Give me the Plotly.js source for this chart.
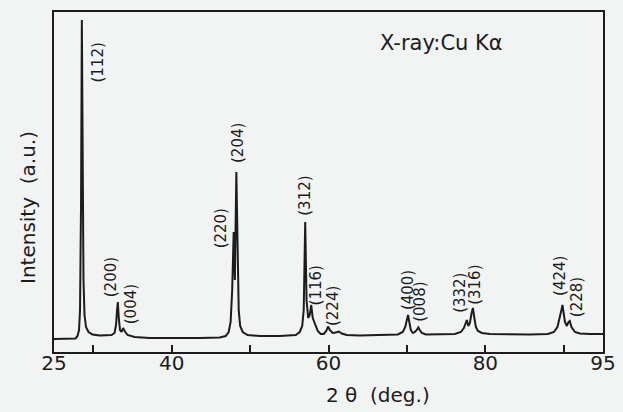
<!DOCTYPE html>
<html>
<head>
<meta charset="utf-8">
<script src="https://cdn.plot.ly/plotly-3.0.1.min.js"></script>
<style>html,body{margin:0;padding:0;background:#f2f3f3;}#chart{width:623px;height:412px;}</style>
</head>
<body>
<div id="chart"></div>
<script>
// 2θ (deg.) values
var twoTheta = [25.00, 26.98, 27.74, 28.00, 28.19, 28.32, 28.45, 28.55, 28.66, 28.76, 28.89, 29.08, 29.40, 29.91, 30.81,
  32.34, 32.72, 32.91, 33.04, 33.14, 33.26, 33.42, 33.61, 33.81, 34.00, 34.38, 35.27, 37.19, 43.57,
  46.12, 46.89, 47.27, 47.52, 47.72, 47.91, 48.06, 48.25, 48.39, 48.55, 48.74, 49.06, 49.69, 51.23, 53.78,
  55.82, 56.33, 56.65, 56.84, 57.03, 57.20, 57.41, 57.61, 57.80, 57.99, 58.24, 58.63, 59.01, 59.39, 59.71, 59.94, 60.16,
  60.54, 60.92, 61.31, 61.69, 62.33, 63.99, 66.54, 68.84,
  69.47, 69.79, 69.99, 70.15, 70.30, 70.50, 70.75, 71.01, 71.26, 71.45, 71.64, 71.90, 72.41, 74.20,
  76.11, 76.88, 77.26, 77.45, 77.64, 77.83, 78.03, 78.22, 78.41, 78.60, 78.79, 79.05, 79.56, 80.58, 83.13, 85.68,
  87.98, 88.74, 89.19, 89.51, 89.70, 89.83, 89.98, 90.15, 90.40, 90.60, 90.76, 90.98, 91.42, 92.06, 93.34, 95.00];
// Intensity (a.u.)
var intensity = [13, 13, 13.5, 16, 22, 42, 152, 332, 202, 72, 37, 25, 20, 17.5, 16.5,
  17, 19, 27, 42, 50, 34, 22, 20, 24, 21, 17, 15, 14, 14,
  14.5, 16, 20, 30, 62, 120, 72, 180, 92, 42, 26, 20, 17, 16, 16,
  17, 20, 26, 42, 130, 52, 34, 37, 47, 34, 29, 21, 18, 18, 21, 25.5, 22,
  19, 19.5, 20.5, 18.5, 17, 16.5, 17, 17.5,
  20, 25, 32, 37, 30, 22, 19, 20, 22, 24.5, 22, 19, 17.5, 17.5,
  18, 20, 24, 28, 32, 26, 29, 38, 44, 34, 25, 21, 19, 18, 17.5, 17.5,
  18, 20, 25, 34, 42, 47, 37, 30, 26, 30, 31, 25, 20, 18.5, 18, 18];

// Peak labels (Miller indices)
var peakLabels = ['(112)', '(200)', '(004)', '(220)', '(204)', '(312)', '(116)', '(224)', '(400)', '(008)', '(332)', '(316)', '(424)', '(228)'];
var labelX = [30.55, 32.30, 34.85, 46.34, 48.46, 56.97, 58.46, 60.58, 70.15, 71.64, 76.75, 78.66, 89.51, 91.64];
var labelY = [289, 75, 48, 124, 209, 156, 67, 46, 62, 50, 59, 67, 76, 54.5];

var tickVals = [25, 30, 40, 50, 60, 70, 80, 90, 95];
var tickText = ['25', '', '40', '', '60', '', '80', '', '95'];

var ink = '#1c1c1c';
var font = 'DejaVu Sans, sans-serif';

var annotations = peakLabels.map(function (t, i) {
  return {x: labelX[i], y: labelY[i], xref: 'x', yref: 'y', text: t, showarrow: false,
    textangle: -90, xanchor: 'center', yanchor: 'middle',
    font: {family: font, size: 15, color: ink}};
});
// pixel-placed texts (centre positions in page pixels)
var px = [
  {px: 441, py: 43, text: 'X-ray:Cu Kα', size: 21, angle: 0},
  {px: 378, py: 395, text: '2 θ  (deg.)', size: 20, angle: 0},
  {px: 28, py: 208, text: 'Intensity  (a.u.)', size: 20, angle: -90}
];
var L = 54, R = 20, T = 12, B = 60, W = 623, H = 412;
px.forEach(function (p) {
  annotations.push({x: (p.px - L) / (W - L - R), y: (H - B - p.py) / (H - T - B),
    xref: 'paper', yref: 'paper', text: p.text, showarrow: false, textangle: p.angle,
    xanchor: 'center', yanchor: 'middle', font: {family: font, size: p.size, color: ink}});
});

Plotly.newPlot('chart', [{
  x: twoTheta, y: intensity, type: 'scatter', mode: 'lines',
  line: {color: ink, width: 2}, hoverinfo: 'skip'
}], {
  width: W, height: H,
  margin: {l: L, r: R, t: T, b: B, pad: 0},
  paper_bgcolor: '#f2f3f3', plot_bgcolor: '#f2f3f3',
  showlegend: false,
  xaxis: {range: [25, 95], tickmode: 'array', tickvals: tickVals, ticktext: tickText,
    ticks: 'inside', ticklen: 7, tickwidth: 2, tickcolor: ink,
    ticklabelstandoff: -8,
    showline: true, linewidth: 2, linecolor: ink, mirror: true,
    showgrid: false, zeroline: false,
    tickfont: {family: font, size: 20, color: ink}},
  yaxis: {range: [0, 340], showticklabels: false, ticks: '',
    showline: true, linewidth: 2, linecolor: ink, mirror: true,
    showgrid: false, zeroline: false},
  annotations: annotations
}, {staticPlot: true});
</script>
</body>
</html>
